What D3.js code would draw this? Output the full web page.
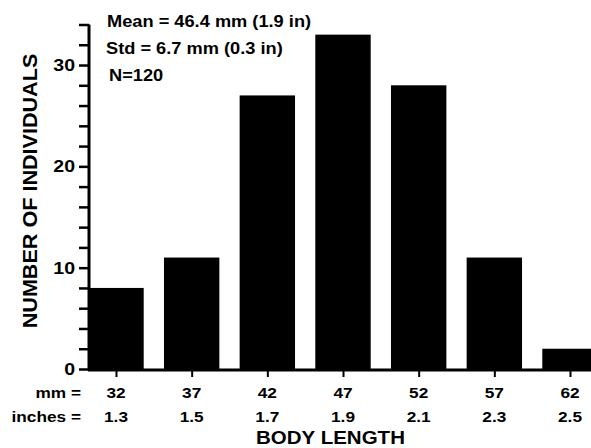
<html>
<head>
  <meta charset="utf-8">
  <title>Body length histogram</title>
  <script src="https://d3js.org/d3.v7.min.js"></script>
  <style>
    body { margin: 0; background: #fff; }
    text { font-family: "Liberation Sans", Arial, sans-serif; font-weight: bold; fill: #000; }
  </style>
</head>
<body>
  <svg id="chart" width="591" height="448"></svg>
  <script>
    // data
    var lengthsMM = [32, 37, 42, 47, 52, 57, 62];
    var lengthsIn = ["1.3", "1.5", "1.7", "1.9", "2.1", "2.3", "2.5"];
    var counts = [8, 11, 27, 33, 28, 11, 2];
    var yTicks = [0, 10, 20, 30];
    var statLines = ["Mean = 46.4 mm (1.9 in)", "Std = 6.7 mm (0.3 in)", "N=120"];

    var svg = d3.select("#chart");

    // scales (x in mm, y in counts)
    var x = d3.scaleLinear().domain([32, 62]).range([116, 570]);
    var y = d3.scaleLinear().domain([0, 34]).range([369, 24.5]);
    var halfBar = 1.83; // mm either side of the bin centre

    // the original lettering is a bit wider than Arial, so stretch it
    function wideText(g, tx, ty, str, size, sx, anchor) {
      return g.append("text")
        .attr("transform", "translate(" + tx + "," + ty + ") scale(" + sx + ",1)")
        .attr("text-anchor", anchor || "start")
        .style("font-size", size + "px")
        .text(str);
    }

    // bars
    svg.selectAll(".bar")
      .data(counts)
      .enter().append("rect")
        .attr("class", "bar")
        .attr("x", (d, i) => x(lengthsMM[i] - halfBar))
        .attr("width", (d, i) => x(lengthsMM[i] + halfBar) - x(lengthsMM[i] - halfBar))
        .attr("y", d => y(d))
        .attr("height", d => y(0) - y(d))
        .attr("fill", "#000");

    // y axis, minor ticks every 2
    var yAxis = svg.append("g")
        .attr("transform", "translate(89,0)")
        .call(d3.axisLeft(y).tickValues(d3.range(0, 35, 2)).tickSize(10).tickFormat(""));
    yAxis.select(".domain").attr("d", "M0," + y(34) + "V" + (y(0) + 2)).attr("stroke-width", 3);
    yAxis.selectAll(".tick line").attr("stroke-width", 2.5);

    yTicks.forEach(function(v) {
      wideText(svg, 75, y(v) + 6, v, 17, 1.15, "end");
    });

    // x axis
    var xAxis = svg.append("g")
        .attr("transform", "translate(0," + (y(0) + 1) + ")")
        .call(d3.axisBottom(x).tickValues(lengthsMM).tickSize(7).tickFormat(""));
    xAxis.select(".domain").attr("d", "M88,0H591").attr("stroke-width", 3);
    xAxis.selectAll(".tick line").attr("stroke-width", 2);

    lengthsMM.forEach(function(v, i) {
      wideText(svg, x(v), 398, v, 15, 1.15, "middle");
      wideText(svg, x(v), 422, lengthsIn[i], 15, 1.15, "middle");
    });
    wideText(svg, 81, 398, "mm =", 15, 1.15, "end");
    wideText(svg, 81, 422, "inches =", 15, 1.15, "end");

    // axis titles
    wideText(svg, 330.5, 444, "BODY LENGTH", 19, 1.08, "middle");
    svg.append("text")
      .attr("transform", "translate(37,191) rotate(-90) scale(1.08,1)")
      .attr("text-anchor", "middle")
      .style("font-size", "20px")
      .text("NUMBER OF INDIVIDUALS");

    // summary stats
    var statPos = [[107, 27], [106, 53.5], [109, 81]];
    statLines.forEach(function(s, i) {
      wideText(svg, statPos[i][0], statPos[i][1], s, 16, 1.14);
    });
  </script>
</body>
</html>
